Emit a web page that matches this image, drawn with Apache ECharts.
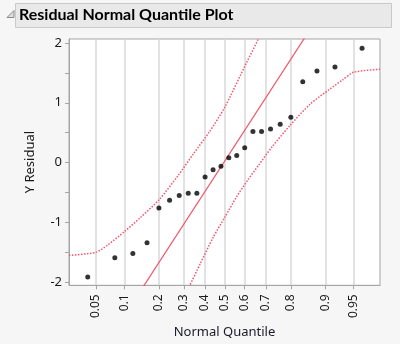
<!DOCTYPE html>
<html>
<head>
<meta charset="utf-8">
<script src="https://cdn.jsdelivr.net/npm/echarts@6/dist/echarts.min.js"></script>
<style>
  html, body { margin: 0; padding: 0; background: #f6f6f6; }
  #chart { width: 400px; height: 344px; }
</style>
</head>
<body>
<div id="chart"></div>
<script>
// Residuals sorted ascending, with their normal quantile positions
const normalQuantile = [-1.751, -1.405, -1.175, -0.994, -0.842, -0.706, -0.583, -0.468,
  -0.358, -0.253, -0.151, -0.050, 0.050, 0.151, 0.253, 0.358, 0.468, 0.583, 0.706,
  0.842, 0.994, 1.175, 1.405, 1.751];
const residual = [-1.91, -1.59, -1.52, -1.34, -0.76, -0.63, -0.55, -0.51,
  -0.51, -0.24, -0.12, -0.06, 0.08, 0.12, 0.25, 0.52, 0.52, 0.56, 0.64, 0.76,
  1.35, 1.53, 1.60, 1.91];

// Fitted normal reference line (endpoints in normal-quantile units)
const refLineQ = [-1.10, 1.10];
const refLineY = [-2.19, 2.25];

// Lilliefors confidence band edges
const upperBandQ = [-1.99, -1.65, -1.50, -1.28, -1.08, -0.84, -0.60, -0.40, -0.20, 0.00, 0.28, 0.42, 0.55];
const upperBandY = [-1.55, -1.50, -1.38, -1.15, -0.92, -0.62, -0.22, 0.15, 0.51, 0.93, 1.68, 2.05, 2.45];
const lowerBandQ = [-0.55, -0.455, -0.315, -0.15, 0.00, 0.15, 0.293, 0.43, 0.60, 0.83, 1.09, 1.34, 1.50, 1.64, 1.98];
const lowerBandY = [-2.30, -2.07, -1.69, -1.25, -0.91, -0.57, -0.29, -0.045, 0.26, 0.62, 0.98, 1.23, 1.38, 1.51, 1.56];

// Probability tick labels on the normal-quantile axis
const probTicks = [0.05, 0.1, 0.2, 0.3, 0.4, 0.5, 0.6, 0.7, 0.8, 0.9, 0.95];
const yLabelTicks = [-2, -1, 0, 1, 2];
const yMinorTicks = [-2, -1.5, -1, -0.5, 0, 0.5, 1, 1.5, 2];

// Inverse standard normal CDF (Acklam's rational approximation) for the axis scale
function probit(p) {
  const a = [-3.969683028665376e+01, 2.209460984245205e+02, -2.759285104469687e+02,
    1.383577518672690e+02, -3.066479806614716e+01, 2.506628277459239e+00];
  const b = [-5.447609879822406e+01, 1.615858368580409e+02, -1.556989798598866e+02,
    6.680131188771972e+01, -1.328068155288572e+01];
  const c = [-7.784894002430293e-03, -3.223964580411365e-01, -2.400758277161838e+00,
    -2.549732539343734e+00, 4.374664141464968e+00, 2.938163982698783e+00];
  const d = [7.784695709041462e-03, 3.224671290700398e-01, 2.445134137142996e+00,
    3.754408661907416e+00];
  const pl = 0.02425, ph = 1 - pl;
  let q, r;
  if (p < pl) {
    q = Math.sqrt(-2 * Math.log(p));
    return (((((c[0]*q+c[1])*q+c[2])*q+c[3])*q+c[4])*q+c[5]) / ((((d[0]*q+d[1])*q+d[2])*q+d[3])*q+1);
  }
  if (p <= ph) {
    q = p - 0.5; r = q * q;
    return (((((a[0]*r+a[1])*r+a[2])*r+a[3])*r+a[4])*r+a[5])*q / (((((b[0]*r+b[1])*r+b[2])*r+b[3])*r+b[4])*r+1);
  }
  q = Math.sqrt(-2 * Math.log(1 - p));
  return -(((((c[0]*q+c[1])*q+c[2])*q+c[3])*q+c[4])*q+c[5]) / ((((d[0]*q+d[1])*q+d[2])*q+d[3])*q+1);
}

const tickQ = probTicks.map(probit);
const zip = (xs, ys) => xs.map((x, i) => [x, ys[i]]);

const red = '#f0566c';
const font = '"Noto Sans", "Open Sans", sans-serif';

const chart = echarts.init(document.getElementById('chart'), null, { renderer: 'canvas' });
chart.setOption({
  backgroundColor: '#f6f6f6',
  animation: false,
  grid: {
    left: 69, right: 20, top: 39, bottom: 57,
    show: true, backgroundColor: '#ffffff', borderColor: '#a6a6a6', borderWidth: 1
  },
  graphic: [
    { type: 'rect', shape: { x: 15.5, y: 3.5, width: 376, height: 24 },
      style: { fill: '#e9e9e9', stroke: '#c9c9c9', lineWidth: 1 }, z: 10 },
    { type: 'polygon', shape: { points: [[14, 10.5], [14, 17.5], [7, 17.5]] },
      style: { fill: '#dcdcdc', stroke: '#8c8c8c', lineWidth: 1 }, z: 10 },
    { type: 'text', left: 19, top: 7, z: 11,
      style: { text: 'Residual Normal Quantile Plot', font: 'bold 16px Lato, "Noto Sans", sans-serif', fill: '#000000' } }
  ],
  xAxis: {
    type: 'value', min: -1.99, max: 1.98,
    name: 'Normal Quantile', nameLocation: 'middle', nameGap: 40,
    nameTextStyle: { fontFamily: font, fontSize: 13, color: '#1a1a2a' },
    axisLine: { show: true, onZero: false, lineStyle: { color: '#a6a6a6' } },
    axisTick: { show: true, length: 4, customValues: tickQ, lineStyle: { color: '#a6a6a6' } },
    axisLabel: {
      customValues: tickQ, rotate: 90, margin: 9,
      fontFamily: font, fontSize: 12, color: '#1a1a1a',
      formatter: v => {
        let best = 0;
        tickQ.forEach((t, i) => { if (Math.abs(t - v) < Math.abs(tickQ[best] - v)) best = i; });
        return String(probTicks[best]);
      }
    },
    splitLine: { show: true, lineStyle: { color: '#d9d9d9', width: 1.5 } }
  },
  yAxis: {
    type: 'value', min: -2.05, max: 2.066,
    name: 'Y Residual', nameLocation: 'middle', nameGap: 32,
    nameTextStyle: { fontFamily: font, fontSize: 13, color: '#1a1a1a' },
    axisLine: { show: true, onZero: false, lineStyle: { color: '#a6a6a6' } },
    axisTick: { show: true, length: 4, customValues: yMinorTicks, lineStyle: { color: '#a6a6a6' } },
    axisLabel: { customValues: yLabelTicks, margin: 7, fontFamily: font, fontSize: 13, color: '#1a1a1a' },
    splitLine: { show: false }
  },
  series: [
    { type: 'line', data: zip(upperBandQ, upperBandY), showSymbol: false, smooth: 0.25,
      lineStyle: { color: red, width: 1.5, type: [1.5, 1.5] }, clip: true, z: 3 },
    { type: 'line', data: zip(lowerBandQ, lowerBandY), showSymbol: false, smooth: 0.25,
      lineStyle: { color: red, width: 1.5, type: [1.5, 1.5] }, clip: true, z: 3 },
    { type: 'line', data: zip(refLineQ, refLineY), showSymbol: false,
      lineStyle: { color: red, width: 1.2 }, clip: true, z: 3 },
    { type: 'scatter', data: zip(normalQuantile, residual), symbolSize: 5,
      itemStyle: { color: '#000000' }, z: 5 }
  ]
});
</script>
</body>
</html>
